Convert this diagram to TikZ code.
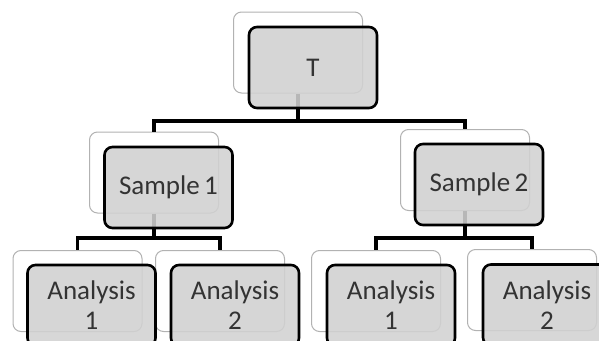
\documentclass[tikz,border=0pt]{standalone}
\usepackage{fontspec}
\setmainfont{Carlito}
\begin{document}
\begin{tikzpicture}[x=1pt,y=-1pt,
  backbox/.style={draw=black!30, line width=1pt, fill=white, rounded corners=8pt,
    minimum width=129pt, minimum height=81pt, inner sep=0pt},
  frontbox/.style={draw=black, line width=2.6pt, fill=black!18, fill opacity=0.88,
    text opacity=1, rounded corners=8pt, minimum width=128pt, minimum height=81pt,
    inner sep=0pt, align=center, text=black!80,
    font=\fontsize{27}{30}\selectfont},
  conn/.style={draw=black, line width=3.6pt}]
\useasboundingbox (0,0) rectangle (599,340);
% back boxes
\node[backbox] (Tb)  at (298,52.5) {};
\node[backbox] (S1b) at (154,172.5) {};
\node[backbox] (S2b) at (465,170) {};
\node[backbox] (A1b) at (77.5,291) {};
\node[backbox] (A2b) at (220,291) {};
\node[backbox] (B1b) at (376,291) {};
\node[backbox] (B2b) at (532,290) {};
% bus coordinates
\coordinate (bus0) at (0,121);
\coordinate (bus1) at (0,238);
% connectors
\draw[conn] (Tb.south) -- (Tb.south |- bus0) -| (S1b.north);
\draw[conn] (Tb.south |- bus0) -| (S2b.north);
\draw[conn] (S1b.south) -- (S1b.south |- bus1) -| (A1b.north);
\draw[conn] (S1b.south |- bus1) -| (A2b.north);
\draw[conn] (S2b.south) -- (S2b.south |- bus1) -| (B1b.north);
\draw[conn] (S2b.south |- bus1) -| (B2b.north);
% front boxes
\node[frontbox] (T)  at (313,67.5) {T};
\node[frontbox] (S1) at (168.5,187.5) {Sample\,1};
\node[frontbox] (S2) at (479,184.5) {Sample\,2};
\node[frontbox] (A1) at (91.5,305.5) {Analysis\\1};
\node[frontbox] (A2) at (235,305.5) {Analysis\\2};
\node[frontbox] (B1) at (391,305.5) {Analysis\\1};
\node[frontbox] (B2) at (547,305) {Analysis\\2};
\end{tikzpicture}
\end{document}
